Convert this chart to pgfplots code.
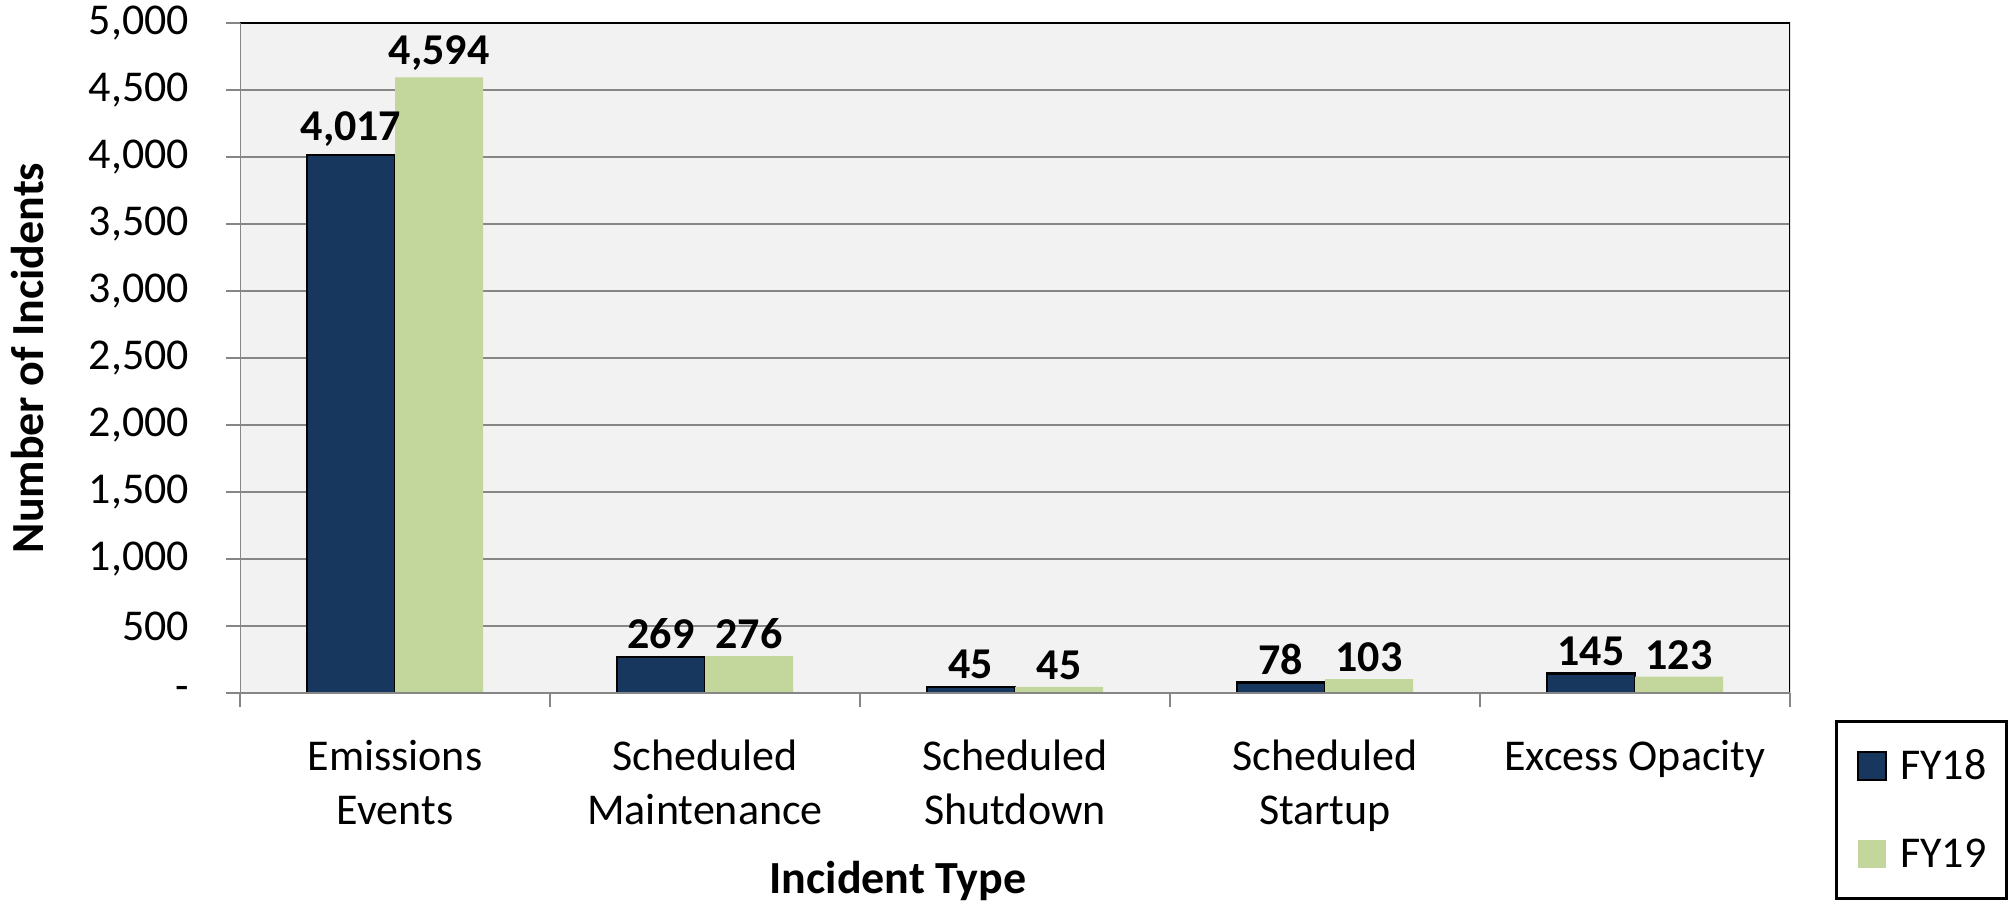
\documentclass[border=0pt]{standalone}
\usepackage{fontspec}
\setmainfont{Carlito}
\usepackage{pgfplots}
\pgfplotsset{compat=1.18}
\definecolor{fyA}{HTML}{17375E}
\definecolor{fyB}{HTML}{C3D69B}
\definecolor{gridc}{HTML}{868686}
\definecolor{bgc}{HTML}{F2F2F2}
\begin{document}
\begin{tikzpicture}
\useasboundingbox (0,0) rectangle (1005.5pt,452.5pt);
\begin{axis}[
  at={(120pt,106pt)}, anchor=south west,
  scale only axis, width=775pt, height=335pt,
  xmin=-0.5, xmax=4.5, ymin=0, ymax=5000,
  ybar, bar width=0.284,
  axis background/.style={fill=bgc},
  axis line style={draw=none},
  ymajorgrids, grid style={gridc, line width=0.7pt},
  ytick={0,500,...,5000},
  yticklabels={{-},{500},{1,000},{1,500},{2,000},{2,500},{3,000},{3,500},{4,000},{4,500},{5,000}},
  xtick={-0.5,0.5,1.5,2.5,3.5,4.5}, xticklabels={},
  extra x ticks={0,1,2,3,4},
  extra x tick labels={{Emissions\\Events},{Scheduled\\Maintenance},{Scheduled\\Shutdown},{Scheduled\\Startup},{Excess Opacity}},
  extra x tick style={tick style={draw=none}},
  tick pos=left,
  tick align=outside, major tick length=7pt,
  tick style={gridc, line width=1pt},
  tick label style={font=\fontsize{22}{27}\selectfont},
  x tick label style={align=center, yshift=-13pt},
  y tick label style={xshift=-15pt},
  ylabel={Number of Incidents},
  ylabel style={font=\fontsize{23}{27}\selectfont\bfseries, at={(axis description cs:-0.137,0.5)}, anchor=center},
  xlabel={Incident Type},
  xlabel style={font=\fontsize{23}{27}\selectfont\bfseries, at={(axis description cs:0.4245,-0.2806)}, anchor=center},
  nodes near coords,
  every node near coord/.append style={font=\fontsize{22}{26}\selectfont\bfseries, color=black, /pgf/number format/assume math mode=true, /pgf/number format/1000 sep={,}},
  legend style={at={(1.1406,-0.0403)}, anchor=north east, draw=black, line width=1.5pt, fill=white,
    font=\fontsize{22}{26}\selectfont, inner xsep=10pt, inner ysep=14pt, row sep=28pt, column sep=6.5pt,
    nodes={inner sep=0pt}},
  legend cell align=left,
  legend image code/.code={\path[#1] (0pt,-7pt) rectangle (14pt,7pt);},
]
\shade[top color=black!22, bottom color=white, draw=none] ([yshift=-0.5pt]rel axis cs:0,0) rectangle ([yshift=-9pt]rel axis cs:1,0);
\addplot[fill=fyA, draw=black, line width=1.2pt, bar shift=-0.142] coordinates {(0,4017) (1,269) (2,45) (3,78) (4,145)};
\addplot[fill=fyB, draw=none, bar shift=0.142] coordinates {(0,4594) (1,276) (2,45) (3,103) (4,123)};
\legend{FY18,FY19}
\draw[black, line width=1.5pt] (rel axis cs:0,1) -- (rel axis cs:1,1) -- (rel axis cs:1,0);
\draw[gridc, line width=1pt] (rel axis cs:0,1) -- (rel axis cs:0,0) -- (rel axis cs:1,0);
\end{axis}
\end{tikzpicture}
\end{document}
